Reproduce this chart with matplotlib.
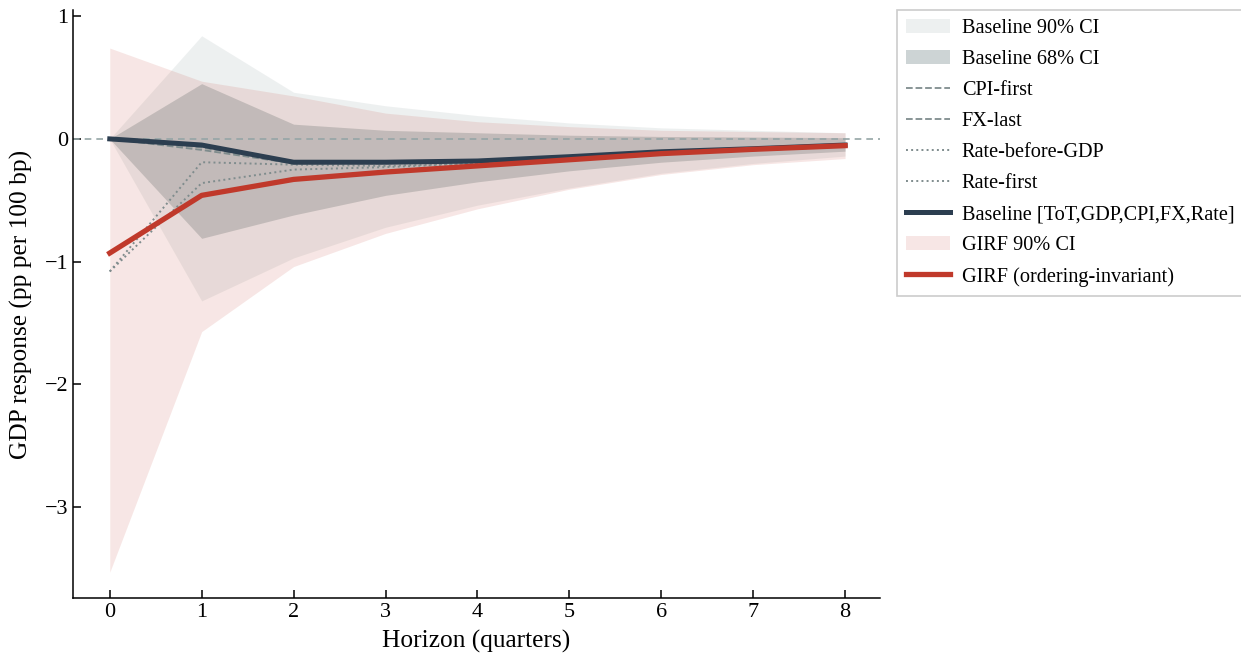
import numpy as np
import matplotlib
matplotlib.use('Agg')
import matplotlib.pyplot as plt

plt.rcParams['font.family'] = ['Liberation Serif', 'DejaVu Serif']
plt.rcParams['mathtext.fontset'] = 'stix'

# Horizonte (trimestres) y respuestas del PIB
horizon = np.arange(0, 9)

baseline = [0.0, -0.05, -0.19, -0.19, -0.18, -0.145, -0.105, -0.08, -0.05]
b90_lo = [0.0, -1.32, -0.97, -0.72, -0.54, -0.40, -0.28, -0.20, -0.14]
b90_hi = [0.0, 0.84, 0.38, 0.27, 0.19, 0.13, 0.09, 0.07, 0.05]
b68_lo = [0.0, -0.81, -0.62, -0.46, -0.35, -0.26, -0.19, -0.14, -0.10]
b68_hi = [0.0, 0.45, 0.12, 0.07, 0.05, 0.03, 0.02, 0.015, 0.01]

cpi_first = [0.0, -0.09, -0.20, -0.20, -0.18, -0.145, -0.105, -0.08, -0.05]
fx_last = [0.0, -0.07, -0.20, -0.19, -0.18, -0.15, -0.11, -0.08, -0.05]
rate_before_gdp = [-1.08, -0.36, -0.25, -0.23, -0.20, -0.16, -0.12, -0.09, -0.06]
rate_first = [-1.08, -0.19, -0.21, -0.22, -0.20, -0.16, -0.12, -0.09, -0.06]

girf = [-0.93, -0.46, -0.33, -0.27, -0.22, -0.17, -0.12, -0.085, -0.055]
girf_lo = [-3.53, -1.57, -1.04, -0.77, -0.57, -0.41, -0.29, -0.21, -0.16]
girf_hi = [0.74, 0.47, 0.35, 0.21, 0.14, 0.10, 0.07, 0.06, 0.05]

navy = '#2c3e50'
rojo = '#c0392b'
gris = '#95a5a6'
gris2 = '#7f8c8d'

fig = plt.figure(figsize=(12.41, 6.59), dpi=100)
ax = fig.add_axes([73/1241, 1-598/659, (880-73)/1241, (598-10)/659])

ax.fill_between(horizon, b90_lo, b90_hi, color=gris, alpha=0.16, lw=0, label='Baseline 90% CI')
ax.fill_between(horizon, b68_lo, b68_hi, color=gris, alpha=0.47, lw=0, label='Baseline 68% CI')
ax.axhline(0, color=gris, ls='--', lw=1.2, dashes=(4, 3))

ax.plot(horizon, cpi_first, ls='--', color=gris2, lw=1.3, label='CPI-first')
ax.plot(horizon, fx_last, ls='--', color=gris2, lw=1.3, label='FX-last')
ax.plot(horizon, rate_before_gdp, ls=':', color=gris2, lw=1.4, label='Rate-before-GDP')
ax.plot(horizon, rate_first, ls=':', color=gris2, lw=1.4, label='Rate-first')
ax.plot(horizon, baseline, color=navy, lw=3.6, label='Baseline [ToT,GDP,CPI,FX,Rate]')
ax.fill_between(horizon, girf_lo, girf_hi, color=rojo, alpha=0.12, lw=0, label='GIRF 90% CI')
ax.plot(horizon, girf, color=rojo, lw=3.8, label='GIRF (ordering-invariant)')

#---------------------- Formato ---------------------------#
ax.set_xlim(-0.40, 8.38)
ax.set_ylim(-3.74, 1.05)
ax.set_xticks(horizon)
ax.set_yticks([-3, -2, -1, 0, 1])
ax.set_yticklabels(['\u22123', '\u22122', '\u22121', '0', '1'])
ax.tick_params(direction='in', length=6, width=1.1, labelsize=16)
for s in ['top', 'right']:
    ax.spines[s].set_visible(False)
for s in ['left', 'bottom']:
    ax.spines[s].set_linewidth(1.1)

ax.set_xlabel('Horizon (quarters)', fontsize=18.3, labelpad=6)
ax.set_ylabel('GDP response (pp per 100 bp)', fontsize=18.3, labelpad=8)

leg = ax.legend(loc='upper left', bbox_to_anchor=(897/1241, 1-10/659),
                bbox_transform=fig.transFigure, fontsize=14.6, frameon=True,
                fancybox=False, edgecolor='#cccccc', framealpha=1,
                labelspacing=0.58, handlelength=2.15, handletextpad=0.6,
                borderpad=0.45, borderaxespad=0)
leg.get_frame().set_linewidth(1.2)

fig.savefig('out.png', dpi=100)
